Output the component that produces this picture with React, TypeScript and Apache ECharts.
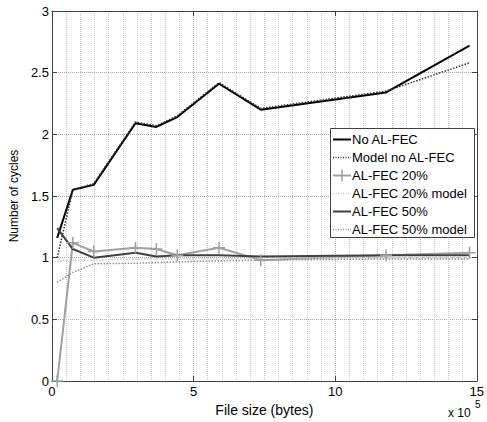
import React, { useEffect, useRef } from "react";
import * as echarts from "echarts";

const fileSizes = [18432, 73728, 147456, 294912, 368640, 442368, 589824, 737280, 1179648, 1474560];
const noFec = [1.16, 1.55, 1.59, 2.09, 2.06, 2.14, 2.41, 2.2, 2.34, 2.72];
const noFecModel = [1.0, 1.55, 1.6, 2.1, 2.07, 2.15, 2.42, 2.21, 2.35, 2.58];
const fec20 = [0, 1.12, 1.05, 1.08, 1.07, 1.02, 1.08, 0.98, 1.02, 1.04];
const fec20Model = [0.97, 0.98, 0.98, 0.99, 0.99, 0.99, 0.99, 1.0, 1.0, 1.0];
const fec50 = [1.24, 1.07, 1.0, 1.04, 1.01, 1.02, 1.02, 1.01, 1.02, 1.02];
const fec50Model = [0.8, 0.88, 0.95, 0.955, 0.96, 0.965, 0.975, 0.98, 0.99, 0.99];
const seriesNames = [
  "No AL-FEC",
  "Model no AL-FEC",
  "AL-FEC 20%",
  "AL-FEC 20% model",
  "AL-FEC 50%",
  "AL-FEC 50% model",
];

const FONT = "'Liberation Sans', Arial, Helvetica, sans-serif";
const PLUS = "path://M5.25,0H6.75V5.25H12V6.75H6.75V12H5.25V6.75H0V5.25H5.25Z";

type Sty = { color: string; width: number; type: "solid" | "dotted"; plus: boolean };
const styles: Sty[] = [
  { color: "#000000", width: 2, type: "solid", plus: false },
  { color: "#333333", width: 1.5, type: "dotted", plus: false },
  { color: "#a0a0a0", width: 2, type: "solid", plus: true },
  { color: "#c8c8c8", width: 1.5, type: "dotted", plus: false },
  { color: "#404040", width: 2, type: "solid", plus: false },
  { color: "#909090", width: 1.5, type: "dotted", plus: false },
];

function pairs(ys: number[]) {
  return fileSizes.map((x, i) => [x, ys[i]]);
}

export default function App() {
  const ref = useRef<HTMLDivElement>(null);
  useEffect(() => {
    if (!ref.current) return;
    const chart = echarts.init(ref.current, undefined, { renderer: "svg" });
    const axisColor = "#404040";
    const gridLine = { show: true, lineStyle: { color: "#b8b8b8", type: "dotted" as const, width: 1 } };
    const allData = [noFec, noFecModel, fec20, fec20Model, fec50, fec50Model];
    const series = allData.map((d, i) => {
      const s = styles[i];
      return {
        type: "line" as const,
        name: seriesNames[i],
        data: pairs(d),
        showSymbol: s.plus,
        symbol: s.plus ? PLUS : "none",
        symbolSize: 12,
        itemStyle: { color: s.color },
        lineStyle: { color: s.color, width: s.width, type: s.type },
        emphasis: { disabled: true },
        z: 3,
      };
    });

    // legend drawn as graphic
    const lx = 330, ly = 128, lw = 144, lh = 109, rowH = 18, firstY = 138.5;
    const legendEls: any[] = [
      {
        type: "rect",
        shape: { x: lx + 0.5, y: ly + 0.5, width: lw, height: lh },
        style: { fill: "#ffffff", stroke: "#404040", lineWidth: 1 },
        z: 100,
      },
    ];
    seriesNames.forEach((name, i) => {
      const s = styles[i];
      const cy = Math.round(firstY + i * rowH) + 0.5;
      legendEls.push({
        type: "line",
        shape: { x1: lx + 3, y1: cy, x2: lx + 21, y2: cy },
        style: { stroke: s.color, lineWidth: s.width, lineDash: s.type === "dotted" ? [1, 1.5] : null },
        z: 101,
      });
      if (s.plus) {
        legendEls.push({
          type: "line",
          shape: { x1: lx + 12, y1: cy - 6, x2: lx + 12, y2: cy + 6 },
          style: { stroke: s.color, lineWidth: 1.5 },
          z: 101,
        });
      }
      legendEls.push({
        type: "text",
        x: lx + 22,
        y: cy,
        style: { text: name, font: `13px ${FONT}`, fill: "#000", textVerticalAlign: "middle", verticalAlign: "middle" },
        z: 101,
      });
    });

    chart.setOption({
      animation: false,
      backgroundColor: "#ffffff",
      textStyle: { fontFamily: FONT },
      grid: { left: 46, right: 7, top: 11, bottom: 37, containLabel: false },
      xAxis: [
        {
          type: "value",
          min: 0,
          max: 1500000,
          interval: 500000,
          name: "File size (bytes)",
          nameLocation: "middle",
          nameGap: 22,
          nameTextStyle: { fontFamily: FONT, fontSize: 14, color: "#000" },
          axisLine: { show: true, onZero: false, lineStyle: { color: axisColor } },
          axisTick: { show: true, inside: true, length: 5, lineStyle: { color: axisColor } },
          axisLabel: { color: "#000", fontSize: 13, fontFamily: FONT, margin: 4, formatter: (v: number) => String(v / 100000) },
          splitLine: gridLine,
          minorTick: { show: false, splitNumber: 10 },
          minorSplitLine: { show: true, lineStyle: { color: "#c8c8c8", type: "dotted" as const, width: 1 } },
        },
        {
          type: "value",
          position: "top",
          min: 0,
          max: 1500000,
          interval: 500000,
          axisLine: { show: true, onZero: false, lineStyle: { color: axisColor } },
          axisTick: { show: true, inside: true, length: 5, lineStyle: { color: axisColor } },
          axisLabel: { show: false },
          splitLine: { show: false },
        },
      ],
      yAxis: [
        {
          type: "value",
          min: 0,
          max: 3,
          interval: 0.5,
          name: "Number of cycles",
          nameLocation: "middle",
          nameGap: 25,
          nameTextStyle: { fontFamily: FONT, fontSize: 12, color: "#000" },
          axisLine: { show: true, onZero: false, lineStyle: { color: axisColor } },
          axisTick: { show: true, inside: true, length: 5, lineStyle: { color: axisColor } },
          axisLabel: { color: "#000", fontSize: 13, fontFamily: FONT, margin: 3 },
          splitLine: { show: true, lineStyle: { color: "#a8a8a8", type: "dotted" as const, width: 1 } },
        },
        {
          type: "value",
          position: "right",
          min: 0,
          max: 3,
          interval: 0.5,
          axisLine: { show: true, onZero: false, lineStyle: { color: axisColor } },
          axisTick: { show: true, inside: true, length: 5, lineStyle: { color: axisColor } },
          axisLabel: { show: false },
          splitLine: { show: false },
        },
      ],
      graphic: [
        { type: "text", left: 448, top: 407, style: { text: "x 10", font: `12px ${FONT}`, fill: "#000" } },
        { type: "text", left: 475, top: 399, style: { text: "5", font: `10px ${FONT}`, fill: "#000" } },
        ...legendEls,
      ],
      series,
    });
    return () => chart.dispose();
  }, []);
  return <div ref={ref} style={{ position: "fixed", left: 0, top: 0, width: 487, height: 422 }} />;
}
